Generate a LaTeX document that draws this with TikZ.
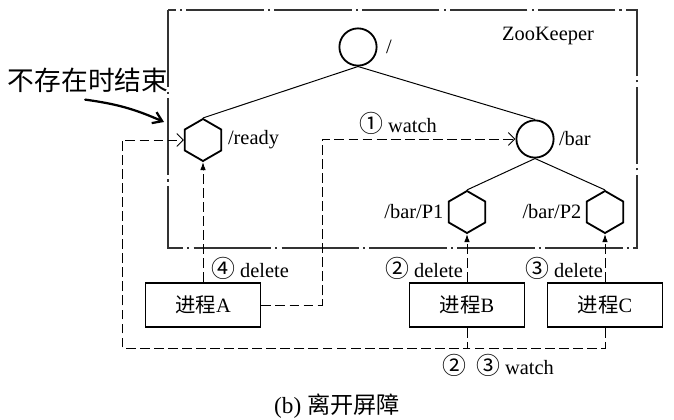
\documentclass[tikz,border=0pt]{standalone}
\usepackage{fontspec}
\setmainfont{Liberation Serif}
\newfontfamily\cjk{Noto Sans CJK SC}
\newcommand{\circd}[1]{{\cjk\fontsize{17}{16}\selectfont #1}}
\usetikzlibrary{shapes.geometric, arrows.meta, positioning, calc}
\tikzset{
	zkbox/.style ={draw=black!80, line width=0.8pt, dash pattern=on 55pt off 3pt on 1.5pt off 3pt},
	zcirc/.style ={circle, draw=black, line width=1.3pt, minimum size=0.93cm, inner sep=0pt},
	zhex/.style  ={regular polygon, regular polygon sides=6, shape border rotate=30, draw=black, line width=1.3pt, minimum size=1.05cm, inner sep=0pt},
	proc/.style  ={rectangle, draw=black, line width=1.3pt, minimum width=2.875cm, minimum height=1.1cm},
	tline/.style ={line width=0.7pt},
	watch/.style ={line width=0.7pt, dash pattern=on 7pt off 3pt, -{Straight Barb[length=1.6mm]}},
	del/.style   ={line width=0.7pt, dash pattern=on 7pt off 3pt, -{Latex[length=2mm, width=1.4mm]}},
	lbl/.style   ={inner sep=1pt},
	hand/.style  ={line width=1.6pt, line cap=round, -{Straight Barb[length=2.2mm, width=3mm]}},
}

\begin{document}
\begin{tikzpicture}[x=0.025cm, y=-0.025cm, font=\fontsize{14.5}{16}\selectfont]
	\useasboundingbox (0,0) rectangle (674,419);
	% ZooKeeper area
	\draw[zkbox] (168,10) rectangle (637,248);
	\node[lbl] (zk) at (548,36) {ZooKeeper};
	% znode tree
	\node[zcirc] (root) at (358,47) {};
	\node[zhex] (ready) at (203,140) {};
	\node[zcirc] (bar) at (535,139) {};
	\node[zhex] (p1) at (467,212) {};
	\node[zhex] (p2) at (605,212) {};
	\node[lbl, right=5pt of root] (rootl) {/};
	\node[lbl, right=3pt of ready] (readyl) {/ready};
	\node[lbl, right=2pt of bar] (barl) {/bar};
	\node[lbl, left=2pt of p1] (p1l) {/bar/P1};
	\node[lbl, left=2pt of p2] (p2l) {/bar/P2};
	\draw[tline] (root.south) -- (ready.north);
	\draw[tline] (root.south) -- (bar.north);
	\draw[tline] (bar.south) -- (p1.north);
	\draw[tline] (bar.south) -- (p2.north);
	% processes
	\node[proc] (pa) at (203,305) {{\cjk 进程}A};
	\node[proc] (pb) at (467,305) {{\cjk 进程}B};
	\node[proc] (pc) at (605,305) {{\cjk 进程}C};
	% delete
	\draw[del] (pa.north) -- (ready.south);
	\draw[del] (pb.north) -- (p1.south);
	\draw[del] (pc.north) -- (p2.south);
	\node[lbl] (dela) at (250,268) {\circd{④} delete};
	\node[lbl] (delb) at (424,268) {\circd{②} delete};
	\node[lbl] (delc) at (564,268) {\circd{③} delete};
	% watch
	\coordinate (wcol) at (322,139);
	\coordinate (loopl) at (122,348);
	\draw[watch] (pa.east) -| (wcol) -- (bar.west);
	\node[lbl] (w1) at (398,123) {\circd{①} watch};
	\draw[watch] (pb.south) |- (loopl) |- (ready.west);
	\draw[line width=0.7pt, dash pattern=on 7pt off 3pt] (pc.south) |- (pb.south |- loopl);
	\node[lbl] (w23) at (498,365) {\circd{②}\ \ \circd{③} watch};
	% note
	\node[lbl, font=\cjk\fontsize{19}{22}\selectfont] (note) at (88,80) {不存在时结束};
	\coordinate (notetip) at (164,122);
	\draw[hand] ([xshift=-2pt, yshift=-4pt]note.south) to[bend left=8] (notetip);
	\node[lbl, font=\fontsize{16.5}{18}\selectfont] (cap) at (337,406) {(b) {\cjk 离开屏障}};
\end{tikzpicture}
\end{document}
